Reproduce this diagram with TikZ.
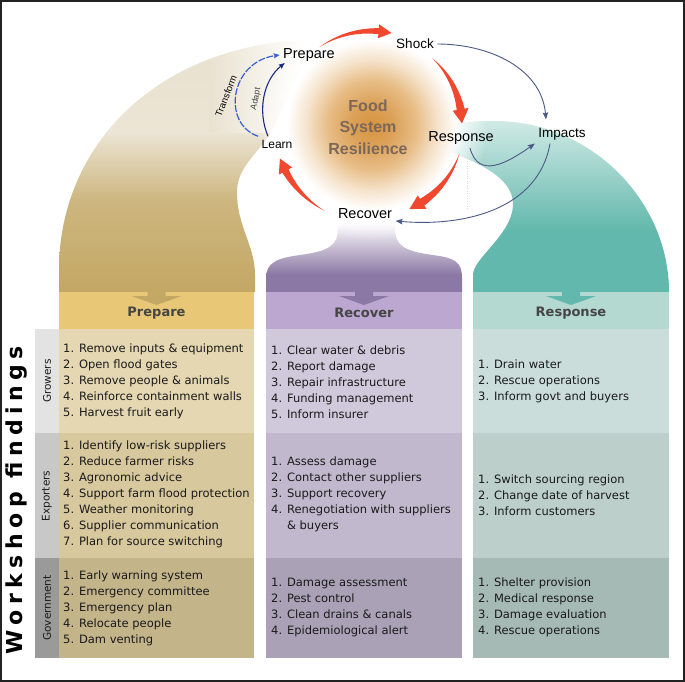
\documentclass[tikz,border=0pt]{standalone}
\usepackage{fontspec}
\setmainfont{DejaVu Sans}
\newfontfamily\arialf{Liberation Sans}
\usetikzlibrary{arrows.meta,fadings}
\definecolor{tanA}{HTML}{C3A764}
\definecolor{tanB}{HTML}{CDB67F}
\definecolor{tanC}{HTML}{ECE5D5}
\definecolor{tanD}{HTML}{E8E0CD}
\definecolor{purA}{HTML}{8C78A4}
\definecolor{tealA}{HTML}{62B8AC}
\definecolor{tealT}{HTML}{D3EBE7}
\definecolor{gl0}{HTML}{D6943F}
\definecolor{gl1}{HTML}{DCA25A}
\definecolor{gl2}{HTML}{E8BE88}
\definecolor{gl3}{HTML}{F5E2CA}
\definecolor{redc}{HTML}{F0472E}
\definecolor{linkc}{HTML}{4B5A85}
\definecolor{adaptc}{HTML}{1B2A7E}
\definecolor{transc}{HTML}{3A5FD0}
\definecolor{fsrc}{HTML}{7D6858}
\definecolor{hdrtxt}{HTML}{454545}
\definecolor{bodytxt}{HTML}{1A1A1A}
\definecolor{framec}{HTML}{222222}
\definecolor{pH}{HTML}{E8C877}
\definecolor{pG}{HTML}{E5D7B2}
\definecolor{pE}{HTML}{D8C89E}
\definecolor{pV}{HTML}{C3B489}
\definecolor{rH}{HTML}{BBA7CF}
\definecolor{rG}{HTML}{D0C8DB}
\definecolor{rE}{HTML}{C2B8CE}
\definecolor{rV}{HTML}{ABA1B6}
\definecolor{sH}{HTML}{B3D9D1}
\definecolor{sG}{HTML}{CADDDA}
\definecolor{sE}{HTML}{BCCFCB}
\definecolor{sV}{HTML}{A5B9B5}
\definecolor{lG}{HTML}{E3E3E3}
\definecolor{lE}{HTML}{C8C8C8}
\definecolor{lV}{HTML}{9A9A9A}
\pgfdeclareradialshading{glowshade}{\pgfpointorigin}{color(0bp)=(gl0); color(4.8bp)=(gl1); color(9.8bp)=(gl2); color(14.1bp)=(gl3); color(18.5bp)=(white); color(25bp)=(white); color(50bp)=(white)}
\pgfdeclareradialshading{glowfadeshade}{\pgfpointorigin}{color(0bp)=(white); color(17.4bp)=(white); color(25bp)=(black); color(50bp)=(black)}
\pgfdeclarefading{glowfade}{\pgfuseshading{glowfadeshade}}
% #1 start angle, #2 head-base angle, #3 tip angle, #4 radius, #5 body half width, #6 head half width
\newcommand\redarc[6]{%
\fill[redc] plot[domain=0:1,samples=24] ({372+(#4+#5*\x)*cos((#1)+((#2)-(#1))*\x)},{-125+(#4+#5*\x)*sin((#1)+((#2)-(#1))*\x)})
 -- ({372+(#4+#6)*cos(#2)},{-125+(#4+#6)*sin(#2)})
 -- ({372+(#4)*cos(#3)},{-125+(#4)*sin(#3)})
 -- ({372+(#4-#6)*cos(#2)},{-125+(#4-#6)*sin(#2)})
 -- plot[domain=0:1,samples=24] ({372+(#4-#5*(1-\x))*cos((#2)+((#1)-(#2))*\x)},{-125+(#4-#5*(1-\x))*sin((#2)+((#1)-(#2))*\x)}) -- cycle;}
\begin{document}
\begin{tikzpicture}[x=1pt,y=1pt,
  body/.style={font=\fontsize{11.5}{16}\selectfont, align=left, anchor=west, inner sep=0pt, text=bodytxt},
  hdr/.style={font=\bfseries\fontsize{13}{15}\selectfont, text=hdrtxt},
  rowlab/.style={rotate=90, font=\fontsize{10.5}{12}\selectfont, text=bodytxt},
  cyc/.style={font=\arialf\fontsize{14}{16}\selectfont, text=black},
  link/.style={linkc, line width=0.9pt, -{Stealth[length=7pt,width=5.5pt,inset=1.2pt]}}]
\useasboundingbox (0,0) rectangle (685,-682);
\fill[white] (0,0) rectangle (685,-682);
% ---------- Prepare flow (tan)
\begin{scope}
\clip (59,-292) -- (59,-270) .. controls (59,-150) and (150,-50) .. (300,-40) .. controls (308,-40) and (310,-46) .. (306,-53) .. controls (295,-80) and (285,-105) .. (272,-130) .. controls (262,-150) and (238,-165) .. (237,-190) .. controls (236,-225) and (255,-245) .. (255,-275) -- (255,-292) -- cycle;
\shade[top color=tanB, bottom color=tanA] (50,-293) rectangle (320,-200);
\shade[top color=tanC, bottom color=tanB] (50,-200.5) rectangle (320,-132);
\shade[top color=tanD, bottom color=tanC] (50,-132.5) rectangle (210,-30);
\shade[left color=tanD!60!tanC, right color=white] (209.5,-132.5) rectangle (306,-30);
\end{scope}
% ---------- Recover flow (purple)
\begin{scope}
\clip (266,-292) -- (266,-278) .. controls (266,-262) and (278,-258) .. (300,-255) .. controls (330,-251) and (338,-245) .. (338,-228) -- (338,-215) -- (395,-215) -- (395,-228) .. controls (395,-245) and (403,-251) .. (433,-255) .. controls (455,-258) and (462,-262) .. (462,-278) -- (462,-292) -- cycle;
\fill[purA] (260,-293) rectangle (470,-274);
\shade[top color=white, bottom color=purA] (260,-274.5) rectangle (470,-222);
\end{scope}
% ---------- Response flow (teal)
\begin{scope}
\clip (473,-292) -- (473,-275) .. controls (473,-258) and (512,-235) .. (513,-205) .. controls (514,-175) and (470,-160) .. (445,-150) .. controls (435,-146) and (432,-133) .. (445,-127) .. controls (460,-121) and (480,-121) .. (495,-121) .. controls (590,-121) and (669,-200) .. (669,-292) -- cycle;
\fill[tealA] (430,-293) rectangle (680,-230);
\shade[top color=tealT, bottom color=tealA] (430,-230.5) rectangle (680,-118);
\end{scope}
% ---------- glow
\shade[shading=glowshade, path fading=glowfade] (372,-125) circle (115);
\draw[gray!30, dotted, line width=0.5pt] (467,-153) -- (467,-210);
% ---------- red cycle arrows
\redarc{124}{86}{78}{94}{3}{7}
\redarc{48}{10}{1}{90}{4}{8}
\redarc{-18}{-57}{-66}{92}{4}{8}
\redarc{241}{208}{200}{98}{3.5}{7.5}
% ---------- cycle labels
\node[font=\arialf\bfseries\fontsize{16}{21.5}\selectfont, text=fsrc, align=center] (fsr) at (368,-127) {Food\\System\\Resilience};
\node[cyc, font=\arialf\fontsize{14.5}{16}\selectfont] (prep) at (309,-55) {Prepare};
\node[cyc, font=\arialf\fontsize{13.5}{16}\selectfont] (shock) at (415,-44) {Shock};
\node[cyc, font=\arialf\fontsize{14.5}{16}\selectfont] (resp) at (461,-138) {Response};
\node[cyc, font=\arialf\fontsize{13.5}{16}\selectfont] (impacts) at (562,-134) {Impacts};
\node[cyc, font=\arialf\fontsize{14.5}{16}\selectfont] (recov) at (365,-214) {Recover};
\node[cyc, font=\arialf\fontsize{12}{14}\selectfont] (learn) at (277,-144) {Learn};
% ---------- thin connectors
\draw[link] (shock.east) to[out=0,in=95] ([shift={(-16,5)}]impacts.north);
\draw[link] ([xshift=9pt]resp.south) to[out=-75,in=215,looseness=1.3] (impacts.south west);
\draw[link] ([xshift=-12pt]impacts.south) to[out=-100,in=-5] ([yshift=-7pt]recov.east);
\draw[transc, line width=1.2pt, dash pattern=on 7pt off 1.5pt, -{Stealth[length=6pt,width=5pt,inset=1pt]}] (learn.north west) .. controls +(-36.7,12.7) and +(-49.7,-7) .. (prep.west);
\draw[adaptc, line width=1.1pt, -{Stealth[length=6pt,width=5pt,inset=1pt]}] ([xshift=-9pt]learn.north) .. controls +(-11,26) and +(-21,-17) .. ([shift={(5,2)}]prep.south west);
\node[rotate=68, font=\arialf\fontsize{9.5}{11}\selectfont, text=black, inner sep=1pt] (tlab) at (226,-96) {Transform};
\node[rotate=78, font=\arialf\fontsize{8.5}{10}\selectfont, text=black!75, inner sep=1pt] (alab) at (256,-99) {Adapt};
% ---------- table columns
\fill[pH] (59,-292) rectangle (254,-329);
\fill[pG] (59,-329) rectangle (254,-433);
\fill[pE] (59,-433) rectangle (254,-558);
\fill[pV] (59,-558) rectangle (254,-658);
\fill[rH] (266,-292) rectangle (462,-329);
\fill[rG] (266,-329) rectangle (462,-433);
\fill[rE] (266,-433) rectangle (462,-558);
\fill[rV] (266,-558) rectangle (462,-658);
\fill[sH] (473,-292) rectangle (669,-329);
\fill[sG] (473,-329) rectangle (669,-433);
\fill[sE] (473,-433) rectangle (669,-558);
\fill[sV] (473,-558) rectangle (669,-658);
\fill[lG] (35,-329) rectangle (59,-433);
\fill[lE] (35,-433) rectangle (59,-558);
\fill[lV] (35,-558) rectangle (59,-658);
% header block arrows
\foreach \cx/\cc in {156.5/tanA, 364/purA, 571/tealA}{
  \fill[\cc] (\cx-9,-292) -- (\cx+9,-292) -- (\cx+9,-296) -- (\cx+25,-296) -- (\cx,-305) -- (\cx-25,-296) -- (\cx-9,-296) -- cycle;}
\node[hdr] (hP) at (156.5,-313) {Prepare};
\node[hdr] (hR) at (364,-313) {Recover};
\node[hdr] (hS) at (571,-313) {Response};
% row labels
\node[rowlab] (lgro) at (47,-381) {Growers};
\node[rowlab] (lexp) at (47,-496) {Exporters};
\node[rowlab] (lgov) at (47,-608) {Government};
\node[rotate=90, font=\bfseries\fontsize{22}{24}\selectfont\addfontfeature{LetterSpace=25}, text=black] (ws) at (17,-500) {Workshop findings};
% cell texts
\node[body] (pg) at (63,-381) {1. Remove inputs \& equipment\\2. Open flood gates\\3. Remove people \& animals\\4. Reinforce containment walls\\5. Harvest fruit early};
\node[body] (pe) at (63,-494) {1. Identify low-risk suppliers\\2. Reduce farmer risks\\3. Agronomic advice\\4. Support farm flood protection\\5. Weather monitoring\\6. Supplier communication\\7. Plan for source switching};
\node[body] (pv) at (63,-608) {1. Early warning system\\2. Emergency committee\\3. Emergency plan\\4. Relocate people\\5. Dam venting};
\node[body] (rg) at (271,-382) {1. Clear water \& debris\\2. Report damage\\3. Repair infrastructure\\4. Funding management\\5. Inform insurer};
\node[body] (re) at (271,-494) {1. Assess damage\\2. Contact other suppliers\\3. Support recovery\\4. Renegotiation with suppliers\\\phantom{4. }\& buyers};
\node[body] (rv) at (271,-607) {1. Damage assessment\\2. Pest control\\3. Clean drains \& canals\\4. Epidemiological alert};
\node[body] (sg) at (478,-381) {1. Drain water\\2. Rescue operations\\3. Inform govt and buyers};
\node[body] (se) at (478,-495) {1. Switch sourcing region\\2. Change date of harvest\\3. Inform customers};
\node[body] (sv) at (478,-607) {1. Shelter provision\\2. Medical response\\3. Damage evaluation\\4. Rescue operations};
% frame
\draw[line width=2pt, framec] (1,-1) rectangle (684,-680.5);
\end{tikzpicture}
\end{document}
